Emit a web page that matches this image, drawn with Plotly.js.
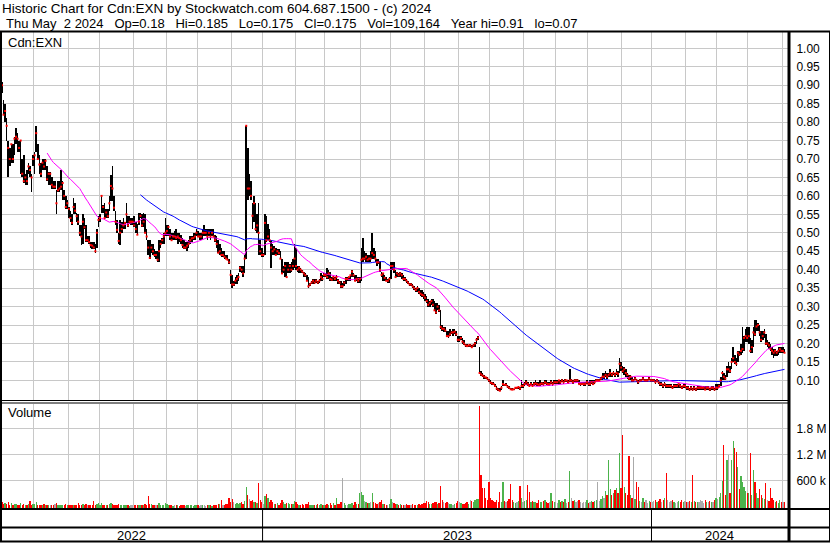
<!DOCTYPE html>
<html><head><meta charset="utf-8">
<script src="https://cdn.plot.ly/plotly-3.0.1.min.js"></script>
<style>html,body{margin:0;padding:0;background:#fff;overflow:hidden}#chart{width:830px;height:543px}</style>
</head><body><div id="chart"></div>
<script>
// ---- calendar: trading days per month, May 2022 .. May 2024 ----
const monthDays = [21,22,20,22,21,20,22,20, 21,19,23,19,22,22,20,22,20,21,22,19, 22,20,20,22,2];
const yearLabels = ['2022','2023','2024'];
const monthsPerYear = [8,12,5];

// ---- daily closes ----
const closes = [
// May 2022
.90,.82,.83,.79,.73,.70,.74,.70,.755,.76,.755,.73,.75,.66,.64,.65,.64,.68,.67,.65,.70,
// Jun
.71,.77,.70,.685,.66,.69,.68,.695,.645,.66,.66,.63,.625,.625,.58,.615,.62,.625,.635,.60,.57,.58,
// Jul
.565,.54,.527,.57,.56,.545,.53,.50,.49,.53,.515,.48,.48,.475,.467,.465,.46,.45,.50,.535,
// Aug
.54,.60,.57,.54,.555,.545,.58,.627,.62,.568,.53,.508,.478,.50,.51,.52,.527,.55,.52,.53,.53,.53,
// Sep
.52,.51,.495,.53,.546,.52,.53,.50,.49,.46,.432,.46,.45,.44,.44,.427,.45,.47,.48,.49,.50,
// Oct
.505,.516,.49,.48,.49,.49,.486,.49,.486,.48,.467,.46,.46,.465,.47,.48,.485,.486,.49,.50,
// Nov
.49,.49,.49,.50,.50,.50,.49,.50,.49,.50,.49,.48,.47,.446,.45,.44,.44,.435,.43,.427,.42,.386,
// Dec
.36,.36,.37,.375,.38,.405,.40,.39,.43,.79,.62,.62,.60,.546,.58,.51,.52,.50,.45,.44,
// Jan 2023
.44,.527,.48,.49,.48,.46,.45,.455,.44,.45,.445,.43,.39,.40,.41,.38,.40,.41,.40,.41,.43,
// Feb
.41,.40,.405,.40,.395,.39,.385,.37,.355,.36,.365,.37,.365,.37,.365,.37,.38,.375,.386,
// Mar
.385,.38,.39,.375,.373,.38,.375,.38,.37,.365,.355,.355,.365,.375,.375,.38,.385,.395,.385,.37,.375,.37,.375,
// Apr
.427,.43,.43,.435,.427,.43,.43,.445,.44,.43,.42,.42,.40,.386,.39,.378,.37,.37,.375,
// May
.41,.41,.40,.38,.39,.385,.39,.385,.375,.375,.37,.365,.36,.36,.355,.35,.345,.35,.34,.335,.332,.33,
// Jun
.324,.315,.305,.31,.315,.305,.29,.284,.30,.29,.245,.24,.24,.235,.22,.22,.225,.23,.23,.232,.225,.21,
// Jul
.21,.215,.205,.20,.195,.193,.195,.195,.19,.195,.20,.21,.216,.12,.116,.113,.11,.108,.105,.10,
// Aug
.094,.092,.09,.085,.078,.075,.072,.08,.09,.088,.088,.083,.08,.076,.075,.076,.08,.08,.082,.078,.085,.085,
// Sep
.09,.095,.09,.085,.09,.085,.09,.092,.09,.088,.09,.092,.09,.095,.092,.09,.09,.095,.09,.095,
// Oct
.095,.095,.10,.095,.10,.095,.10,.10,.095,.10,.10,.095,.10,.10,.10,.09,.09,.09,.09,.09,.095,
// Nov
.09,.09,.095,.09,.095,.10,.10,.10,.105,.11,.11,.115,.11,.115,.12,.115,.12,.115,.12,.118,.145,.135,
// Dec
.125,.13,.12,.115,.105,.11,.10,.10,.105,.10,.095,.10,.10,.105,.10,.10,.10,.105,.10,
// Jan 2024
.10,.10,.095,.10,.095,.09,.09,.085,.09,.085,.085,.085,.085,.08,.085,.085,.085,.09,.085,.08,.085,.085,
// Feb
.08,.08,.075,.08,.075,.08,.075,.08,.08,.08,.08,.08,.075,.08,.08,.075,.08,.08,.075,.08,
// Mar
.08,.085,.10,.12,.11,.105,.13,.13,.125,.15,.16,.15,.145,.175,.17,.18,.185,.215,.22,.215,
// Apr
.22,.18,.19,.23,.225,.246,.25,.23,.21,.22,.23,.20,.20,.195,.185,.18,.175,.18,.175,.18,.185,.18,
// May
.18,.175
];

// ---- daily highs ----
const highs = [
.91,.86,.85,.81,.75,.73,.74,.74,.76,.785,.77,.75,.75,.70,.71,.66,.67,.69,.68,.66,.71,
.72,.79,.74,.71,.69,.70,.70,.70,.68,.665,.665,.65,.64,.64,.615,.64,.64,.67,.64,.615,.60,.59,
.57,.56,.55,.595,.58,.555,.55,.52,.52,.55,.54,.52,.49,.49,.475,.475,.475,.47,.51,.545,
.55,.60,.575,.58,.565,.565,.60,.657,.68,.60,.56,.535,.50,.535,.53,.54,.53,.58,.545,.545,.54,.54,
.545,.53,.525,.555,.555,.55,.555,.55,.51,.48,.48,.47,.47,.455,.45,.45,.48,.48,.485,.50,.54,
.52,.52,.51,.50,.50,.505,.51,.50,.50,.495,.485,.48,.475,.475,.48,.49,.49,.50,.50,.51,
.505,.50,.50,.51,.52,.51,.51,.51,.51,.51,.51,.495,.49,.48,.47,.46,.45,.45,.44,.44,.43,.40,
.385,.37,.38,.385,.39,.41,.41,.41,.44,.79,.73,.66,.64,.58,.60,.58,.55,.58,.48,.46,
.445,.55,.545,.525,.51,.48,.47,.465,.46,.455,.455,.45,.43,.41,.42,.42,.42,.415,.42,.43,.47,
.46,.41,.41,.405,.40,.395,.39,.385,.38,.365,.37,.375,.375,.375,.37,.375,.39,.385,.39,
.39,.405,.40,.395,.38,.385,.38,.385,.375,.37,.37,.365,.37,.38,.38,.38,.385,.40,.39,.385,.385,.38,.38,
.46,.486,.45,.445,.44,.44,.45,.50,.46,.45,.43,.43,.42,.395,.39,.385,.38,.375,.38,
.42,.42,.42,.40,.395,.39,.395,.39,.385,.38,.375,.37,.365,.365,.36,.355,.35,.355,.35,.345,.345,.34,
.335,.33,.32,.315,.32,.32,.315,.31,.31,.305,.29,.25,.245,.245,.235,.235,.24,.235,.24,.24,.235,.22,
.22,.22,.215,.21,.20,.20,.195,.20,.195,.20,.205,.215,.22,.19,.125,.12,.115,.11,.11,.105,
.10,.095,.095,.09,.085,.08,.08,.085,.10,.09,.092,.088,.085,.08,.08,.078,.082,.082,.085,.082,.10,.09,
.095,.10,.095,.09,.095,.09,.095,.10,.095,.095,.10,.095,.095,.10,.10,.095,.095,.10,.095,.10,
.10,.10,.10,.10,.105,.10,.105,.10,.10,.13,.105,.10,.105,.105,.105,.10,.095,.095,.095,.095,.10,
.095,.10,.10,.10,.10,.105,.105,.105,.11,.12,.12,.125,.12,.12,.13,.12,.125,.12,.13,.125,.162,.15,
.14,.135,.13,.12,.115,.115,.11,.105,.11,.105,.10,.105,.105,.11,.105,.105,.105,.11,.105,
.105,.105,.10,.105,.10,.095,.095,.09,.095,.09,.09,.09,.09,.085,.09,.09,.09,.09,.09,.085,.09,.09,
.085,.085,.08,.085,.08,.085,.08,.085,.085,.085,.085,.085,.085,.085,.085,.08,.085,.085,.08,.09,
.09,.09,.11,.125,.12,.115,.14,.15,.14,.16,.19,.17,.16,.18,.18,.20,.246,.22,.24,.245,
.245,.215,.21,.245,.265,.265,.255,.25,.235,.235,.24,.225,.21,.205,.20,.19,.185,.185,.18,.19,.19,.19,
.19,.185
];

// ---- daily lows ----
const lows = [
.88,.82,.80,.75,.65,.68,.69,.69,.71,.74,.72,.72,.66,.65,.635,.63,.63,.66,.65,.61,.68,
.66,.72,.70,.66,.65,.67,.67,.67,.64,.63,.63,.62,.62,.62,.55,.61,.61,.615,.59,.59,.565,.565,
.54,.53,.52,.55,.55,.53,.52,.49,.467,.47,.51,.475,.475,.47,.46,.455,.455,.445,.46,.515,
.53,.555,.555,.54,.54,.54,.56,.585,.585,.56,.52,.50,.47,.468,.50,.51,.51,.527,.515,.525,.52,.52,
.515,.50,.495,.52,.54,.515,.515,.50,.48,.44,.43,.445,.44,.435,.43,.42,.42,.46,.47,.47,.49,
.49,.49,.48,.48,.48,.48,.48,.47,.475,.47,.46,.455,.455,.45,.46,.47,.475,.48,.48,.49,
.49,.48,.48,.48,.49,.49,.48,.49,.48,.49,.49,.475,.46,.445,.44,.435,.435,.43,.43,.425,.415,.36,
.35,.355,.36,.36,.37,.395,.39,.38,.39,.43,.59,.60,.59,.51,.53,.505,.50,.44,.44,.435,
.435,.44,.475,.48,.475,.405,.44,.44,.44,.44,.44,.43,.39,.39,.38,.38,.39,.39,.395,.40,.405,
.40,.395,.39,.39,.39,.38,.38,.37,.35,.355,.36,.36,.36,.365,.36,.365,.37,.37,.38,
.38,.375,.375,.37,.37,.37,.37,.37,.36,.36,.35,.35,.355,.36,.37,.37,.37,.38,.38,.37,.37,.365,.365,
.37,.42,.425,.42,.42,.42,.42,.43,.43,.42,.41,.415,.395,.38,.37,.37,.37,.365,.365,
.375,.40,.39,.38,.38,.38,.38,.375,.37,.37,.365,.36,.355,.355,.35,.345,.34,.34,.335,.33,.325,.32,
.315,.31,.30,.30,.305,.30,.29,.28,.29,.285,.24,.235,.23,.23,.22,.215,.22,.225,.22,.225,.22,.205,
.205,.21,.20,.195,.19,.19,.19,.19,.19,.19,.19,.20,.21,.12,.112,.11,.105,.105,.10,.095,
.09,.088,.087,.083,.075,.07,.07,.075,.085,.085,.085,.08,.078,.074,.073,.073,.076,.077,.077,.075,.08,.08,
.085,.088,.085,.083,.085,.083,.085,.088,.085,.085,.085,.088,.085,.09,.088,.085,.085,.09,.085,.09,
.09,.09,.09,.09,.095,.09,.095,.095,.09,.095,.095,.09,.095,.095,.095,.09,.085,.088,.085,.085,.09,
.085,.085,.09,.088,.09,.095,.095,.095,.10,.10,.105,.11,.105,.11,.11,.11,.115,.11,.115,.11,.12,.125,
.12,.115,.11,.105,.10,.10,.095,.095,.10,.095,.09,.095,.095,.10,.095,.095,.095,.10,.095,
.095,.095,.09,.095,.09,.085,.085,.08,.085,.08,.08,.08,.08,.078,.08,.08,.08,.08,.08,.078,.08,.08,
.075,.075,.07,.075,.07,.075,.07,.075,.075,.075,.075,.075,.075,.075,.075,.07,.075,.075,.07,.075,
.075,.08,.085,.10,.10,.10,.11,.12,.12,.13,.15,.145,.14,.15,.165,.17,.175,.18,.205,.205,
.20,.175,.175,.19,.22,.235,.235,.22,.205,.21,.215,.195,.19,.185,.18,.17,.16,.165,.165,.17,.175,.175,
.175,.175
];

// ---- daily volume, thousands of shares ----
const volumesK = [
90,60,75,50,110,40,65,30,55,45,40,25,85,35,60,30,20,45,120,35,50,
45,95,40,35,30,25,55,20,40,30,25,35,20,45,85,30,25,40,35,20,45,30,
30,35,25,40,20,30,65,35,30,45,25,50,40,25,30,20,130,35,60,70,
40,85,30,35,20,25,45,70,55,40,30,35,45,25,20,30,25,40,20,15,25,20,
30,25,40,35,20,30,25,45,40,240,60,50,35,30,25,40,85,35,40,30,75,
45,30,25,20,15,25,20,30,15,25,35,20,15,20,25,30,20,15,25,30,
20,15,25,30,20,15,25,20,30,15,20,35,40,55,45,150,40,35,45,60,200,110,
180,90,60,80,50,70,90,60,120,450,260,180,120,150,110,90,80,540,140,90,
60,240,280,200,90,150,110,60,50,70,40,80,140,90,60,80,70,45,60,50,120,
90,50,40,35,45,30,50,60,90,40,35,30,25,40,60,35,45,30,40,
40,60,35,80,30,70,40,190,60,45,90,645,70,40,30,60,45,80,40,110,50,60,300,
320,260,120,90,80,70,90,300,110,80,60,70,90,145,50,60,40,35,45,
180,90,70,60,45,40,50,35,40,30,45,35,40,30,55,40,35,30,45,40,60,70,
80,120,90,60,50,70,90,110,60,80,475,150,90,70,110,80,60,50,40,45,70,120,
90,70,60,50,80,110,60,150,120,90,140,160,180,2310,720,420,420,200,150,560,
200,150,120,100,140,90,330,110,560,120,90,130,160,520,150,90,80,100,120,480,200,90,
120,150,490,330,100,130,90,110,80,140,100,90,120,150,110,80,90,300,120,100,
90,80,150,100,120,90,160,80,110,810,200,120,150,100,130,140,90,80,110,100,150,
80,100,130,90,120,150,560,130,180,240,200,350,250,1070,400,260,300,380,420,300,1240,420,
1650,450,300,260,1160,250,200,1140,180,570,450,120,90,200,100,150,80,120,100,
90,120,150,100,130,160,110,140,200,770,150,90,120,140,100,80,110,130,90,150,100,120,
110,90,120,100,720,130,110,90,100,150,120,80,140,110,100,120,90,110,150,200,
180,220,300,590,1410,250,1070,1180,300,1070,1510,1340,1260,900,400,700,550,450,350,300,
300,1230,250,830,560,300,200,400,250,200,180,540,150,120,420,200,150,100,120,80,150,100,
90,109.164
];

// ---- axis tick labels ----
const priceTicks = [0.10,0.15,0.20,0.25,0.30,0.35,0.40,0.45,0.50,0.55,0.60,0.65,0.70,0.75,0.80,0.85,0.90,0.95,1.00];
const volTicks = [600000,1200000,1800000];
const volTickText = ['600 k','1.2 M','1.8 M'];

const titleLine1 = 'Historic Chart for Cdn:EXN by Stockwatch.com 604.687.1500 - (c) 2024';
const titleLine2 = 'Thu May  2 2024   Op=0.18   Hi=0.185   Lo=0.175   Cl=0.175   Vol=109,164   Year hi=0.91   lo=0.07';
const symbolLabel = 'Cdn:EXN';
const volumeLabel = 'Volume';

// ---- styling / layout constants ----
const FONT = 'Liberation Sans, Arial, sans-serif';
const GRID = '#c8c8c8';
const RED = '#ff0000', GREEN = '#4cb34c', GRAY = '#aaaaaa';
const W = 830, H = 543;
const px = x => x / W, py = y => 1 - y / H;
const nb = s => s.replace(/ /g, '\u00a0');

const N = Math.min(closes.length, highs.length, lows.length, volumesK.length);
const idx = Array.from({length: N}, (_, i) => i);

function sma(arr, n) {
  const out = new Array(N).fill(null); let sum = 0;
  for (let i = 0; i < N; i++) {
    sum += arr[i]; if (i >= n) sum -= arr[i - n];
    if (i >= n - 1) out[i] = sum / n;
  }
  return out;
}
const maShort = sma(closes, 30), maLong = sma(closes, 90);

const monthStarts = []; let acc = 0;
monthDays.forEach(d => { monthStarts.push(acc); acc += d; });
const gridX = monthStarts.slice(1).map(s => s - 0.5);
const yearStarts = []; let mi = 0;
monthsPerYear.forEach(k => { yearStarts.push(monthStarts[mi]); mi += k; });

const X0 = -1.2856, X1 = 505.25;
const P0 = 0.10 - (400 - 380.4) / 369, P1 = 0.10 + (380.4 - 32) / 369;
const V0 = (506.3 - 508.5) / 26 * 600000, V1 = (506.3 - 403.5) / 26 * 600000;

const volColors = idx.map(i => i === 0 ? RED : (closes[i] > closes[i-1] ? GREEN : (closes[i] < closes[i-1] ? RED : GRAY)));

const traces = [
  {type:'bar', x: idx, y: idx.map(i => Math.max(highs[i] - lows[i], 0.002)), base: idx.map(i => lows[i]), width: 1.0,
   marker:{color:'#000', line:{width:0}}, xaxis:'x', yaxis:'y', hoverinfo:'skip'},
  {type:'scatter', mode:'lines', x: idx, y: maLong, line:{color:'#0000ff', width:1}, xaxis:'x', yaxis:'y', hoverinfo:'skip', connectgaps:false},
  {type:'scatter', mode:'lines', x: idx, y: maShort, line:{color:'#ff00ff', width:1}, xaxis:'x', yaxis:'y', hoverinfo:'skip', connectgaps:false},
  {type:'scatter', mode:'markers', x: idx, y: closes.slice(0, N), marker:{symbol:'square', size:2, color:RED, line:{width:0}}, xaxis:'x', yaxis:'y', hoverinfo:'skip'},
  {type:'bar', x: idx, y: idx.map(i => volumesK[i] * 1000 - V0), base: V0, width: 0.85,
   marker:{color: volColors, line:{width:0}}, xaxis:'x2', yaxis:'y2', hoverinfo:'skip'}
];

const bounds = [X0].concat(yearStarts.slice(1).map(s => s - 0.5)).concat([X1]);
const yearAnn = yearLabels.map((t, k) => ({xref:'x2', yref:'paper', x:(bounds[k] + bounds[k+1]) / 2, y:py(535),
  xanchor:'center', yanchor:'middle', text:t, showarrow:false, font:{family:FONT, size:13, color:'#000'}}));

const line = (x0, y0, x1, y1, w) => ({type:'line', xref:'paper', yref:'paper', x0:px(x0), y0:py(y0), x1:px(x1), y1:py(y1), line:{color:'#000', width:w}});
const shapes = [
  line(0, 31.5, 830, 31.5, 2),
  line(1, 31, 1, 542, 2),
  line(789, 31, 789, 542, 3),
  line(829.5, 31, 829.5, 542, 1),
  line(0, 400.5, 789, 400.5, 1),
  line(0, 403, 789, 403, 1),
  line(0, 509, 830, 509, 2),
  line(0, 527.5, 830, 527.5, 2),
  line(0, 541.5, 830, 541.5, 2)
].concat(yearStarts.slice(1).map(s => ({type:'line', xref:'x2', yref:'paper', x0:s - 0.5, x1:s - 0.5, y0:py(509), y1:py(541.5), line:{color:'#000', width:1}})));

const axX = {range:[X0, X1], domain:[0, px(788)], tickvals: gridX, showticklabels:false, ticks:'', showgrid:true,
  gridcolor:GRID, gridwidth:1, zeroline:false, showline:false, fixedrange:true};
const layout = {
  width:W, height:H, margin:{l:0, r:0, t:0, b:0, pad:0},
  paper_bgcolor:'#fff', plot_bgcolor:'#fff', showlegend:false, bargap:0,
  font:{family:FONT, size:12, color:'#000'},
  xaxis: Object.assign({}, axX, {anchor:'y'}),
  xaxis2: Object.assign({}, axX, {anchor:'y2'}),
  yaxis: {domain:[py(400), py(32)], range:[P0, P1], side:'right', anchor:'x', tickvals: priceTicks,
    ticktext: priceTicks.map(v => v.toFixed(2)), showgrid:true, gridcolor:GRID, zeroline:false, showline:false,
    ticks:'outside', ticklen:5, tickcolor:'rgba(0,0,0,0)', tickfont:{family:FONT, size:12, color:'#000'}, fixedrange:true},
  yaxis2: {domain:[py(508.5), py(403.5)], range:[V0, V1], side:'right', anchor:'x2', tickvals: volTicks,
    ticktext: volTickText, showgrid:true, gridcolor:GRID, zeroline:false, showline:false,
    ticks:'outside', ticklen:5, tickcolor:'rgba(0,0,0,0)', tickfont:{family:FONT, size:12, color:'#000'}, fixedrange:true},
  shapes: shapes,
  annotations: [
    {xref:'paper', yref:'paper', x:px(0), y:py(8.5), xanchor:'left', yanchor:'middle', text:nb(titleLine1), showarrow:false, font:{family:FONT, size:13.5, color:'#000'}},
    {xref:'paper', yref:'paper', x:px(4), y:py(23), xanchor:'left', yanchor:'middle', text:nb(titleLine2), showarrow:false, font:{family:FONT, size:13, color:'#000'}},
    {xref:'paper', yref:'paper', x:px(6), y:py(42), xanchor:'left', yanchor:'middle', text:symbolLabel, showarrow:false, font:{family:FONT, size:13, color:'#000'}},
    {xref:'paper', yref:'paper', x:px(6), y:py(413), xanchor:'left', yanchor:'middle', text:volumeLabel, showarrow:false, font:{family:FONT, size:13, color:'#000'}}
  ].concat(yearAnn)
};

Plotly.newPlot('chart', traces, layout, {staticPlot:true, displayModeBar:false});
</script></body></html>
